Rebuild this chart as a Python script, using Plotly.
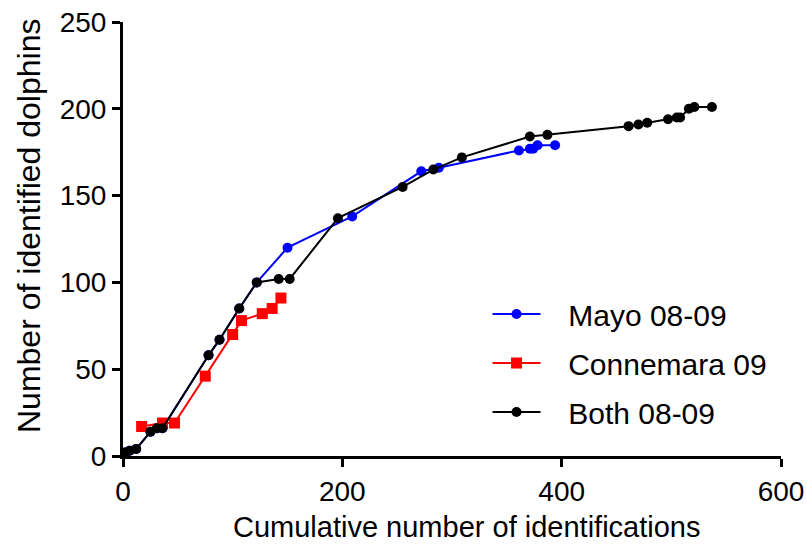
import plotly.graph_objects as go

# ---- data ----
mayo_x = [2, 6, 12, 25, 31, 36, 78, 88, 106, 122, 150, 209, 272, 288, 361, 371, 374, 378, 394]
mayo_y = [2, 3, 4, 14, 16, 16, 58, 67, 85, 100, 120, 138, 164, 166, 176, 177, 177, 179, 179]

conn_x = [17, 36, 47, 75, 100, 108, 127, 136, 144]
conn_y = [17, 19, 19, 46, 70, 78, 82, 85, 91]

both_x = [2, 6, 12, 25, 31, 36, 78, 88, 106, 122, 142, 152, 196, 255, 283, 309, 371, 387,
          461, 470, 478, 497, 505, 508, 516, 521, 537]
both_y = [2, 3, 4, 14, 16, 16, 58, 67, 85, 100, 102, 102, 137, 155, 165, 172, 184, 185,
          190, 191, 192, 194, 195, 195, 200, 201, 201]

x_ticks = [0, 200, 400, 600]
y_ticks = [0, 50, 100, 150, 200, 250]

FONT = "Liberation Sans, Arial, sans-serif"
PAD = "\u00a0\u00a0\u2009"

fig = go.Figure()
fig.add_trace(go.Scatter(x=mayo_x, y=mayo_y, mode="lines+markers", name=PAD + "Mayo 08-09",
                         legendgroup="a",
                         line=dict(color="#0000FF", width=2),
                         marker=dict(color="#0000FF", size=10, symbol="circle"),
                         cliponaxis=False))
fig.add_trace(go.Scatter(x=conn_x, y=conn_y, mode="lines+markers", name=PAD + "Connemara 09",
                         legendgroup="b",
                         line=dict(color="#FF0000", width=2),
                         marker=dict(color="#FF0000", size=11, symbol="square"),
                         cliponaxis=False))
fig.add_trace(go.Scatter(x=both_x, y=both_y, mode="lines+markers", name=PAD + "Both 08-09",
                         legendgroup="c",
                         line=dict(color="#000000", width=2),
                         marker=dict(color="#000000", size=10, symbol="circle"),
                         cliponaxis=False))

axis_common = dict(showline=True, linecolor="black", linewidth=3, ticks="outside",
                   ticklen=8, tickwidth=3, tickcolor="black", showgrid=False,
                   zeroline=False, automargin=False, ticklabeloverflow="allow",
                   tickfont=dict(family=FONT, size=28, color="black"))

fig.update_xaxes(range=[0, 600], tickvals=x_ticks, ticktext=[str(v) for v in x_ticks],
                 **axis_common)
fig.update_yaxes(range=[0, 250], tickvals=y_ticks, ticktext=[str(v) for v in y_ticks],
                 **axis_common)

fig.update_layout(
    width=806, height=550,
    margin=dict(l=123, r=25, t=22, b=94, autoexpand=False),
    plot_bgcolor="white", paper_bgcolor="white",
    font=dict(family=FONT, size=28, color="black"),
    showlegend=True,
    legend=dict(x=0.554, y=0.387, xanchor="left", yanchor="top",
                bgcolor="rgba(0,0,0,0)", borderwidth=0,
                font=dict(family=FONT, size=30, color="black"),
                itemwidth=48, tracegroupgap=7, traceorder="grouped"),
    annotations=[
        dict(text="Cumulative number of identifications", xref="paper", yref="paper",
             x=(466 - 123) / 658, y=-(527 - 456) / 434, xanchor="center", yanchor="middle",
             showarrow=False, font=dict(family=FONT, size=29, color="black")),
        dict(text="Number of identified dolphins", xref="paper", yref="paper",
             x=-(123 - 29) / 658, y=(456 - 226) / 434, xanchor="center", yanchor="middle",
             textangle=-90, showarrow=False, font=dict(family=FONT, size=32, color="black")),
    ],
)

fig.write_html("out.html", config={"displayModeBar": False},
               post_script="document.body.style.margin='0';document.body.style.overflow='hidden';")
